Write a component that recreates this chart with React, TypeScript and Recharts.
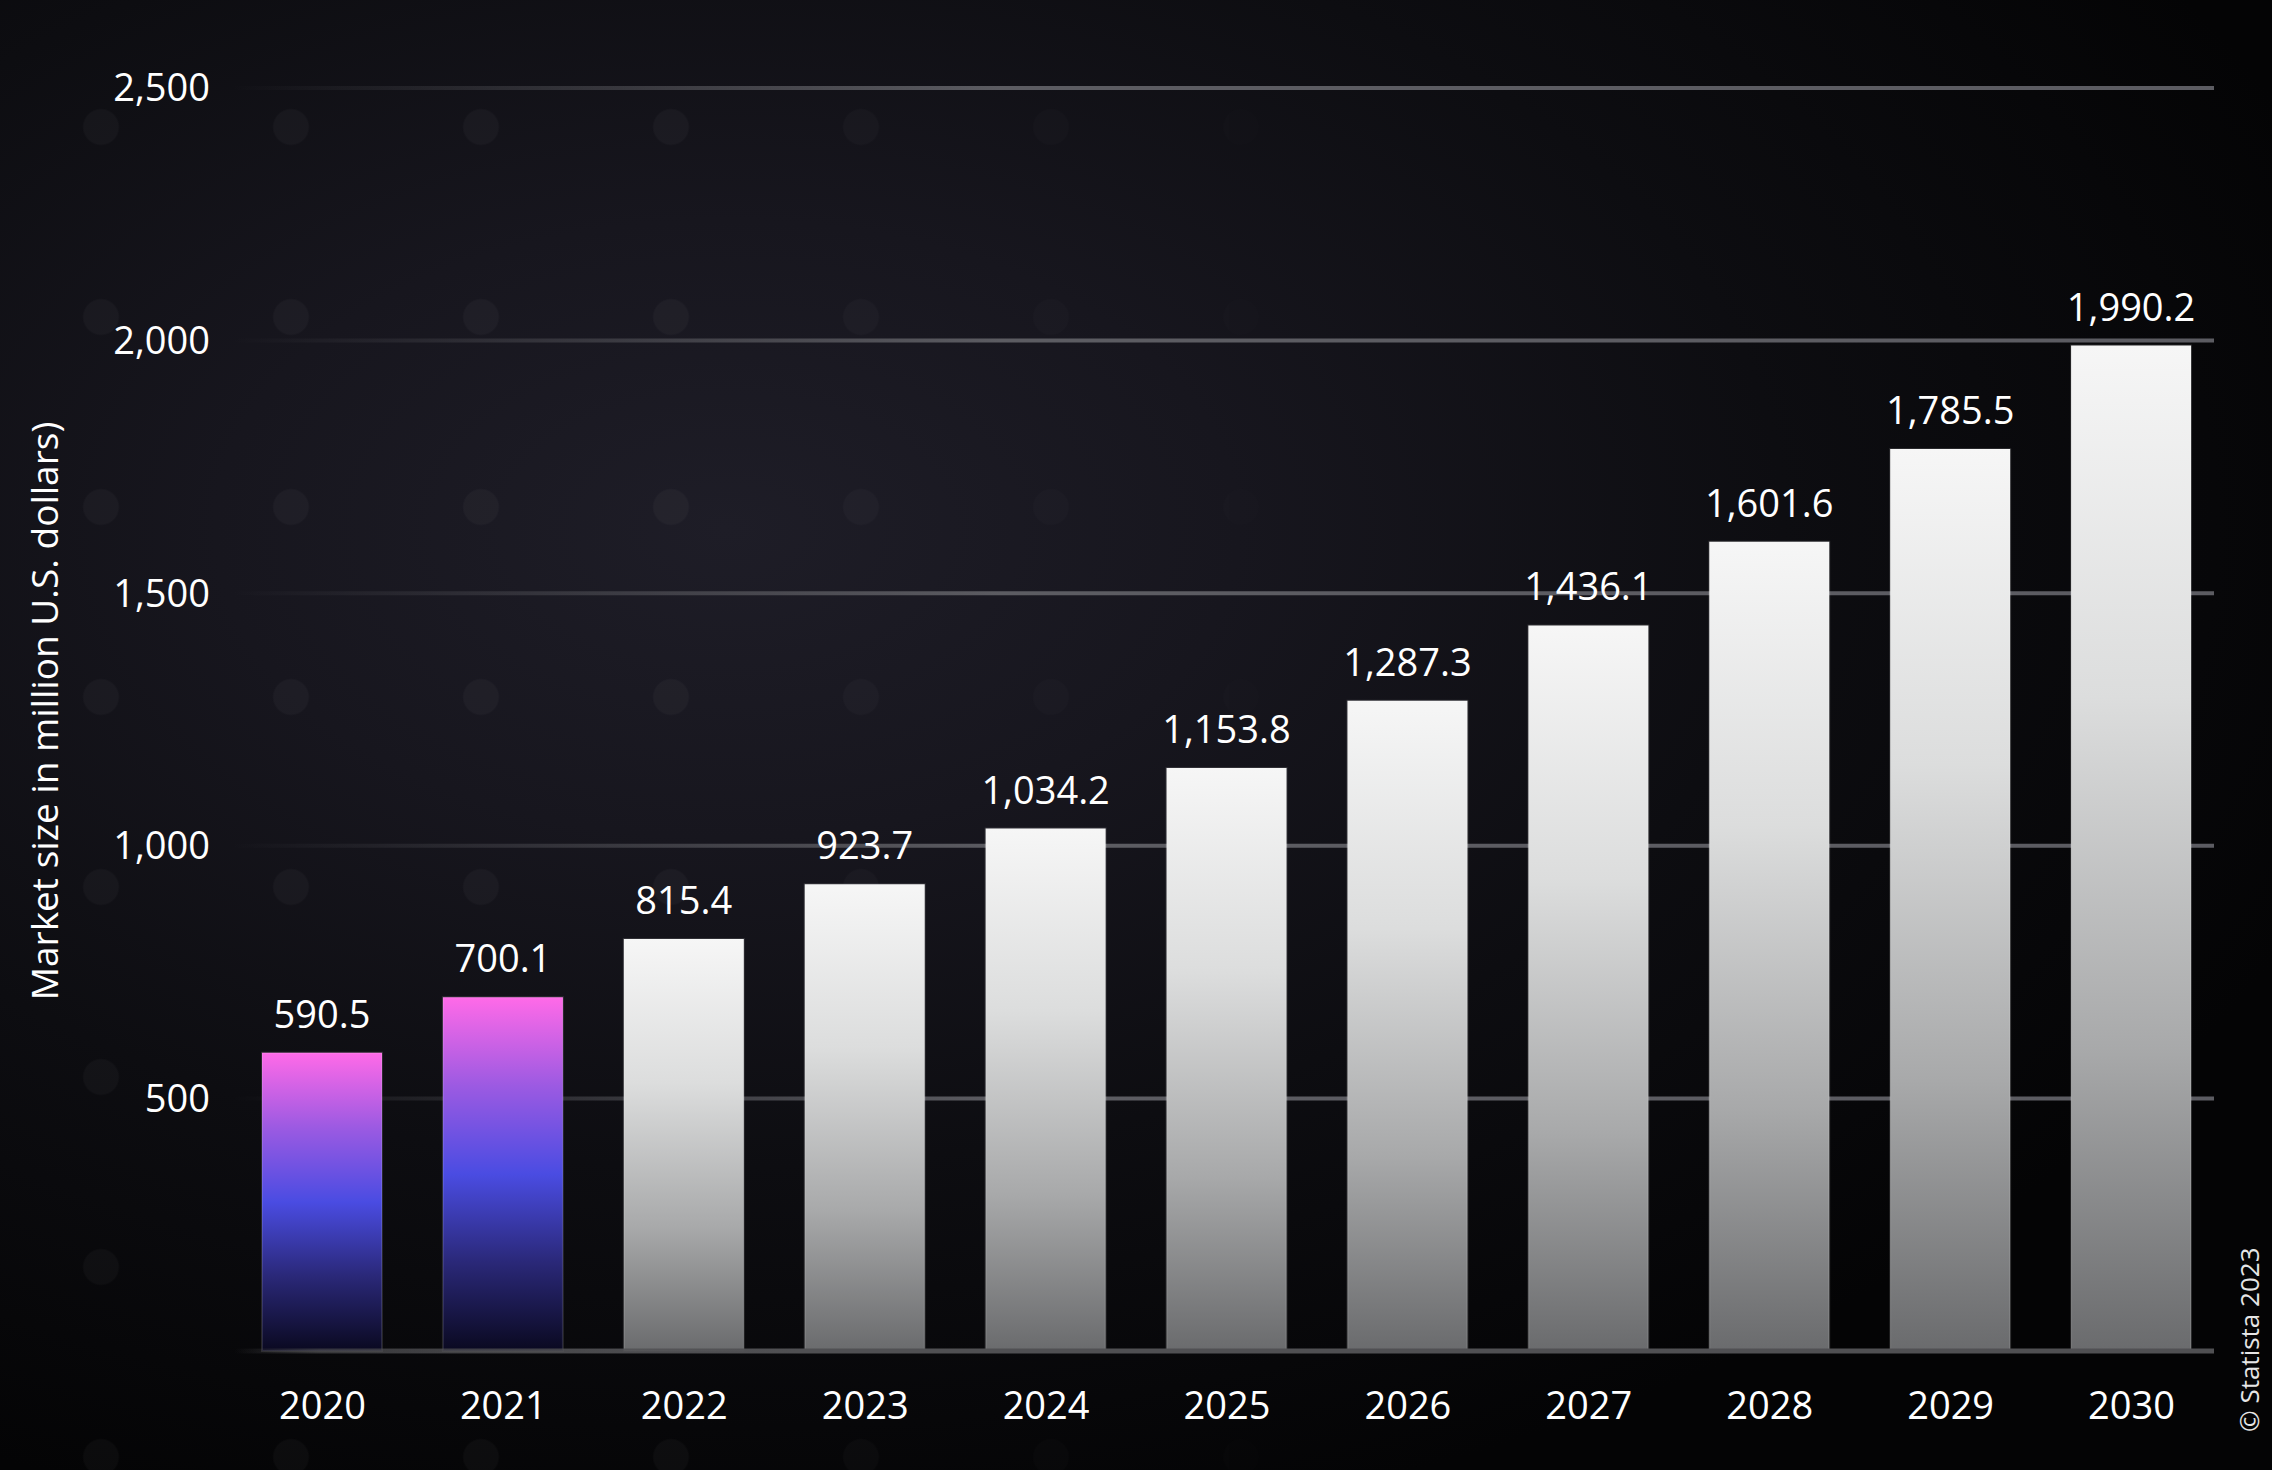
import { BarChart, Bar, XAxis, YAxis, CartesianGrid, LabelList, Cell } from 'recharts';

const years = ['2020', '2021', '2022', '2023', '2024', '2025', '2026', '2027', '2028', '2029', '2030'];
const marketSize = [590.5, 700.1, 815.4, 923.7, 1034.2, 1153.8, 1287.3, 1436.1, 1601.6, 1785.5, 1990.2];
const yTicks = [500, 1000, 1500, 2000, 2500];
// years shown with the pink/blue gradient (actual values), the rest are forecasts
const historicalYears = ['2020', '2021'];

const data = years.map((year, i) => ({ year, value: marketSize[i] }));

const W = 2272;
const H = 1470;
const FONT = "'Open Sans', 'Noto Sans', sans-serif";

const fmt = (v: number) =>
  v.toLocaleString('en-US', { minimumFractionDigits: 1, maximumFractionDigits: 1 });

const fmtTick = (v: number) => v.toLocaleString('en-US');

export default function App() {
  return (
    <div
      style={{
        position: 'absolute',
        left: 0,
        top: 0,
        width: W,
        height: H,
        overflow: 'hidden',
        fontFamily: FONT,
        background:
          'radial-gradient(ellipse 75% 70% at 32% 36%, #1e1d27 0%, #17161e 30%, #0d0d11 62%, #040405 100%)',
      }}
    >
      {/* faint dot pattern in the background */}
      <div
        style={{
          position: 'absolute',
          inset: 0,
          backgroundImage: 'radial-gradient(circle, rgba(255,255,255,0.03) 17px, rgba(255,255,255,0) 19px)',
          backgroundSize: '190px 190px',
          backgroundPosition: '6px 32px',
          WebkitMaskImage: 'linear-gradient(to right, #000 0%, #000 30%, transparent 65%)',
          maskImage: 'linear-gradient(to right, #000 0%, #000 30%, transparent 65%)',
        }}
      />
      <div style={{ position: 'absolute', left: 0, top: 0 }}>
        <BarChart width={W} height={H} data={data} margin={{ top: 88, right: 58, bottom: 0, left: 0 }}>
          <defs>
            <linearGradient id="histFill" x1="0" y1="0" x2="0" y2="1">
              <stop offset="0%" stopColor="#ff6ae8" />
              <stop offset="25%" stopColor="#9c5ae2" />
              <stop offset="50%" stopColor="#4a4ce2" />
              <stop offset="75%" stopColor="#2a2878" />
              <stop offset="100%" stopColor="#0a0920" />
            </linearGradient>
            <linearGradient id="foreFill" x1="0" y1="0" x2="0" y2="1">
              <stop offset="0%" stopColor="#f6f6f6" />
              <stop offset="35%" stopColor="#dcdddd" />
              <stop offset="70%" stopColor="#a8a9aa" />
              <stop offset="100%" stopColor="#6a6b6d" />
            </linearGradient>
            <linearGradient id="gridFade" gradientUnits="userSpaceOnUse" x1="232" y1="0" x2="1000" y2="0">
              <stop offset="0%" stopColor="#5c5c62" stopOpacity={0} />
              <stop offset="100%" stopColor="#5c5c62" stopOpacity={1} />
            </linearGradient>
            <linearGradient id="baseFade" gradientUnits="userSpaceOnUse" x1="235" y1="0" x2="800" y2="0">
              <stop offset="0%" stopColor="#505053" stopOpacity={0} />
              <stop offset="15%" stopColor="#505053" stopOpacity={0.6} />
              <stop offset="100%" stopColor="#505053" stopOpacity={1} />
            </linearGradient>
          </defs>
          <CartesianGrid vertical={false} stroke="url(#gridFade)" strokeWidth={4} />
          <XAxis
            dataKey="year"
            height={119}
            padding={{ left: 0, right: -8 }}
            tickLine={false}
            tickSize={0}
            tickMargin={41}
            axisLine={{ stroke: 'url(#baseFade)', strokeWidth: 5 }}
            tick={{ fill: '#ffffff', fontSize: 38, fontFamily: FONT }}
            interval={0}
          />
          <YAxis
            width={232}
            domain={[0, 2500]}
            ticks={yTicks}
            tickFormatter={fmtTick}
            axisLine={false}
            tickLine={false}
            tickSize={0}
            tickMargin={22}
            tick={{ fill: '#ffffff', fontSize: 38, fontFamily: FONT }}
            label={{
              value: 'Market size in million U.S. dollars)',
              angle: -90,
              position: 'insideLeft',
              offset: 0,
              content: () => (
                <text
                  x={43}
                  y={711}
                  transform="rotate(-90 43 711)"
                  textAnchor="middle"
                  dominantBaseline="central"
                  fill="#ffffff"
                  fontSize={37}
                  fontFamily={FONT}
                >
                  Market size in million U.S. dollars)
                </text>
              ),
            }}
          />
          <Bar dataKey="value" barSize={120} isAnimationActive={false}>
            {data.map((d) => (
              <Cell
                key={d.year}
                fill={historicalYears.includes(d.year) ? 'url(#histFill)' : 'url(#foreFill)'}
                stroke="rgba(255,255,255,0.12)"
                strokeWidth={2}
              />
            ))}
            <LabelList
              dataKey="value"
              position="top"
              offset={25}
              formatter={(v: any) => fmt(Number(v))}
              fill="#ffffff"
              fontSize={38}
              fontFamily={FONT}
            />
          </Bar>
        </BarChart>
      </div>
      <div
        style={{
          position: 'absolute',
          left: 2236,
          top: 1432,
          transformOrigin: '0 0',
          transform: 'rotate(-90deg)',
          color: '#e6e6e6',
          fontSize: 26,
          whiteSpace: 'nowrap',
          lineHeight: 1,
        }}
      >
        © Statista 2023
      </div>
    </div>
  );
}
